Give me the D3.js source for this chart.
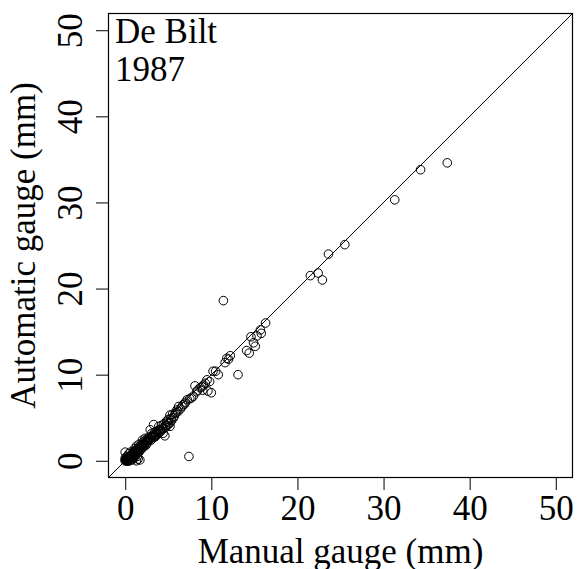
<!DOCTYPE html>
<html>
<head>
<meta charset="utf-8">
<script src="https://cdn.jsdelivr.net/npm/d3@7"></script>
<style>
    body { margin: 0; background: #fff; }
    svg { display: block; }
    text { font-family: "Liberation Serif", "Times New Roman", serif; fill: #000; }
</style>
</head>
<body>
<div id="chart"></div>
<script>
// daily totals, De Bilt 1987 (mm)
var manual = [
    37.4, 34.3, 31.3, 25.5, 23.6, 21.5, 22.4, 22.9, 11.4, 16.3,
    15.7, 15.8, 14.6, 15.3, 14.9, 15.1, 14.1, 14.4, 12.2, 12.0,
    11.6, 10.5, 10.8, 13.1, 9.5, 9.8, 9.1, 8.7, 10.0, 9.6,
    8.3, 7.9, 7.5, 7.2, 6.7, 6.4, 6.0, 5.8, 6.2, 7.4,
    9.3, 9.0, 8.1, 11.8, 10.2, 5.5, 5.6, 5.2, 5.0, 5.2,
    5.2, 4.8, 4.6, 4.4, 4.5, 4.2, 4.0, 3.9, 3.8, 3.6,
    3.5, 3.3, 2.9, 3.4, 3.2, 3.0, 3.1, 2.8, 2.7, 2.5,
    2.4, 2.3, 2.2, 2.0, 2.1, 1.9, 1.8, 1.7, 1.6, 1.5,
    1.4, 1.3, 1.2, 1.1, 1.0, 1.0, 0.9, 0.8, 0.8, 0.7,
    0.6, 0.6, 0.5, 0.5, 0.4, 0.4, 0.3, 0.3, 0.2, 0.2,
    0.1, 0.1, 0.0, 0.0, 0.1, 0.0, 1.7, 1.3, 1.5, 2.0,
    0.6, 0.9, 1.2, 5.9, 6.6, 4.3, 3.7, 2.6, 1.1, 0.7,
    0.3, 0.2, 0.5, 1.4, 1.9, 2.2, 3.0, 4.1, 4.9, 5.4,
    0.0, 0.1, 0.4, 0.8, 1.6, 2.4, 3.5, 4.7, 0.2, 0.9,
    7.0, 7.7, 8.4, 8.9, 6.9, 5.3, 4.9, 4.7, 3.9, 3.6,
    3.3, 2.6, 2.2, 1.8, 1.5, 1.2, 1.0, 0.8, 0.5, 0.3,
    1.4, 2.6, 3.8, 4.4, 5.0, 5.7, 6.1, 4.2, 3.4, 2.9,
    0.4, 0.2, 0.6, 1.1, 1.6, 2.3, 2.0, 1.3
];
var automatic = [
    34.6, 33.8, 30.3, 25.1, 24.0, 21.5, 21.8, 21.0, 18.6, 16.0,
    15.2, 14.8, 14.4, 14.5, 13.7, 13.3, 12.8, 12.5, 12.2, 11.8,
    11.4, 10.4, 10.0, 10.0, 9.4, 9.2, 8.8, 8.5, 7.9, 8.1,
    8.0, 7.5, 7.2, 7.1, 6.5, 6.0, 5.9, 5.5, 6.3, 0.5,
    9.0, 8.2, 8.7, 11.9, 10.4, 5.4, 5.0, 5.3, 4.8, 4.4,
    4.0, 4.6, 2.9, 3.2, 4.3, 4.1, 3.6, 4.0, 3.5, 3.4,
    3.1, 4.2, 3.6, 3.3, 3.0, 2.8, 3.2, 2.6, 2.7, 2.4,
    2.1, 2.3, 2.0, 1.9, 2.2, 1.7, 1.8, 1.5, 1.6, 1.3,
    1.4, 1.1, 1.2, 1.0, 0.9, 1.1, 0.8, 0.8, 0.6, 0.7,
    0.5, 0.6, 0.4, 0.5, 0.3, 0.4, 0.3, 0.2, 0.2, 0.1,
    0.1, 0.0, 0.0, 0.1, 0.2, 1.0, 0.1, 0.0, 0.2, 1.5,
    0.2, 0.5, 0.8, 5.6, 6.3, 3.8, 3.3, 2.3, 0.7, 0.4,
    0.1, 0.0, 0.2, 1.0, 1.4, 1.7, 2.4, 3.4, 4.1, 4.7,
    0.3, 0.4, 0.0, 0.3, 1.0, 1.8, 2.8, 3.9, 0.0, 0.3,
    6.8, 7.3, 8.2, 8.6, 6.6, 4.9, 4.5, 4.1, 3.3, 3.0,
    2.7, 2.5, 1.8, 1.3, 1.0, 0.6, 0.3, 0.1, 0.0, 0.0,
    0.5, 2.1, 3.1, 3.7, 4.3, 5.2, 5.7, 3.5, 2.9, 2.5,
    0.8, 0.5, 1.0, 1.4, 1.9, 2.6, 2.4, 1.7
];
var ticks = [0, 10, 20, 30, 40, 50];

function drawChart() {
    var width = 577, height = 569;
    var pLeft = 108, pRight = 573, pTop = 13, pBottom = 478;
    var fontSize = 35;

    var svg = d3.select('#chart').append('svg')
        .attr('width', width)
        .attr('height', height);

    // R style: 4% padding around 0..50
    var x = d3.scaleLinear().domain([-2, 52]).range([pLeft, pRight]);
    var y = d3.scaleLinear().domain([-2, 52]).range([pBottom, pTop]);

    svg.append('clipPath').attr('id', 'plotclip')
        .append('rect')
        .attr('x', pLeft).attr('y', pTop)
        .attr('width', pRight - pLeft).attr('height', pBottom - pTop);

    var xAxis = svg.append('g')
        .attr('transform', 'translate(0,' + pBottom + ')')
        .call(d3.axisBottom(x).tickValues(ticks).tickSize(12).tickSizeOuter(0));
    xAxis.select('.domain').remove();
    xAxis.selectAll('text')
        .attr('y', 42)
        .attr('dy', null)
        .style('font-size', fontSize + 'px');

    var yAxis = svg.append('g')
        .attr('transform', 'translate(' + pLeft + ',0)')
        .call(d3.axisLeft(y).tickValues(ticks).tickSize(12).tickSizeOuter(0));
    yAxis.select('.domain').remove();
    yAxis.selectAll('text')
        .attr('x', 0)
        .attr('y', -26)
        .attr('dy', null)
        .attr('text-anchor', 'middle')
        .attr('transform', 'rotate(-90)')
        .style('font-size', fontSize + 'px');

    svg.selectAll('.tick line').attr('stroke', '#000').attr('stroke-width', 1);

    // identity line
    svg.append('line')
        .attr('clip-path', 'url(#plotclip)')
        .attr('x1', x(-2)).attr('y1', y(-2))
        .attr('x2', x(52)).attr('y2', y(52))
        .attr('stroke', '#000')
        .attr('stroke-width', 1);

    svg.append('g')
        .attr('clip-path', 'url(#plotclip)')
        .selectAll('circle')
        .data(manual)
        .enter()
        .append('circle')
        .attr('cx', function(d) { return x(d); })
        .attr('cy', function(d, i) { return y(automatic[i]); })
        .attr('r', 4.3)
        .attr('fill', 'none')
        .attr('stroke', '#000')
        .attr('stroke-width', 1);

    // plot box
    svg.append('rect')
        .attr('x', pLeft + 0.5).attr('y', pTop + 0.5)
        .attr('width', pRight - pLeft - 1).attr('height', pBottom - pTop - 1)
        .attr('fill', 'none')
        .attr('stroke', '#000')
        .attr('stroke-width', 1.2);

    svg.append('text')
        .attr('x', (pLeft + pRight) / 2)
        .attr('y', 563)
        .attr('text-anchor', 'middle')
        .style('font-size', fontSize + 'px')
        .text('Manual gauge (mm)');

    svg.append('text')
        .attr('transform', 'translate(35,' + (pTop + pBottom) / 2 + ') rotate(-90)')
        .attr('text-anchor', 'middle')
        .style('font-size', fontSize + 'px')
        .text('Automatic gauge (mm)');

    svg.append('text')
        .attr('x', 115).attr('y', 43)
        .style('font-size', fontSize + 'px')
        .text('De Bilt');
    svg.append('text')
        .attr('x', 115).attr('y', 81)
        .style('font-size', fontSize + 'px')
        .text('1987');
}

drawChart();
</script>
</body>
</html>
